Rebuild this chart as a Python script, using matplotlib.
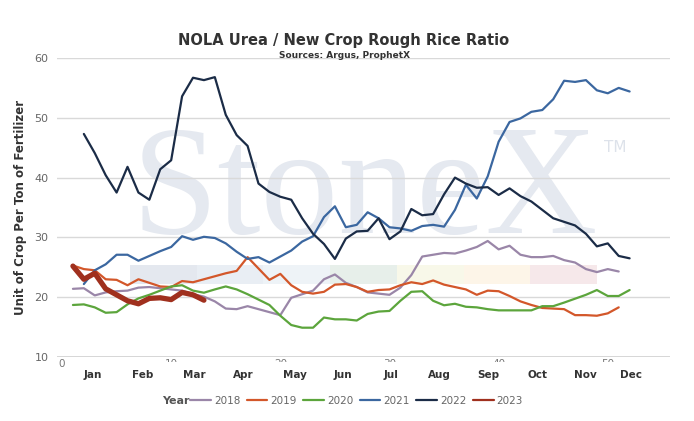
import numpy as np
import matplotlib
matplotlib.use("Agg")
import matplotlib.pyplot as plt
from matplotlib.patches import Rectangle
from matplotlib.transforms import Bbox, TransformedBbox

#* weekly ratio values
years = ["2018", "2019", "2020", "2021", "2022", "2023"]
start_week = {"2018": 1, "2019": 1, "2020": 1, "2021": 2, "2022": 2, "2023": 1}

r2018 = [21.4, 21.5, 20.3, 20.8, 21.0, 21.1, 21.6, 21.7, 21.5, 21.3,
         21.1, 20.5, 20.1, 19.3, 18.1, 18.0, 18.5, 18.0, 17.5, 17.0,
         19.9, 20.5, 21.1, 23.0, 23.8, 22.4, 21.7, 20.8, 20.6, 20.4,
         21.6, 23.7, 26.8, 27.1, 27.4, 27.3, 27.8, 28.4, 29.4, 28.0,
         28.6, 27.1, 26.7, 26.7, 26.9, 26.2, 25.8, 24.7, 24.2, 24.7, 24.3]
r2019 = [25.3, 24.7, 24.5, 23.0, 22.9, 22.0, 23.0, 22.4, 21.8, 21.7,
         22.7, 22.5, 23.0, 23.5, 24.0, 24.4, 26.7, 24.8, 22.9, 23.9,
         22.0, 20.9, 20.6, 20.9, 22.1, 22.2, 21.7, 20.9, 21.2, 21.3,
         22.0, 22.5, 22.2, 22.8, 22.1, 21.7, 21.3, 20.4, 21.1, 21.0,
         20.2, 19.3, 18.7, 18.2, 18.1, 18.0, 17.0, 17.0, 16.9, 17.3, 18.3]
r2020 = [18.7, 18.8, 18.3, 17.4, 17.5, 18.8, 19.8, 20.4, 21.1, 21.8,
         22.0, 21.1, 20.75, 21.3, 21.8, 21.3, 20.5, 19.6, 18.7, 16.9,
         15.35, 14.9, 14.9, 16.6, 16.3, 16.3, 16.1, 17.2, 17.6, 17.7,
         19.4, 20.9, 21.0, 19.4, 18.65, 18.9, 18.4, 18.3, 18.0, 17.8,
         17.8, 17.8, 17.8, 18.5, 18.5, 19.1, 19.75, 20.4, 21.2, 20.2, 20.2, 21.2]
r2021 = [22.2, 24.5, 25.5, 27.1, 27.1, 26.1, 26.9, 27.7, 28.4, 30.2,
         29.6, 30.1, 29.9, 29.0, 27.6, 26.4, 26.7, 25.8, 26.8, 27.8,
         29.3, 30.2, 33.4, 35.2, 31.7, 32.1, 34.2, 33.2, 31.7, 31.5,
         31.1, 31.9, 32.1, 31.8, 34.6, 38.8, 36.5, 40.2, 46.0, 49.3,
         49.9, 51.0, 51.3, 53.1, 56.2, 56.0, 56.3, 54.6, 54.1, 55.0, 54.4]
r2022 = [47.3, 44.1, 40.4, 37.5, 41.8, 37.5, 36.3, 41.4, 42.9, 53.6,
         56.7, 56.3, 56.8, 50.5, 47.1, 45.3, 39.0, 37.6, 36.8, 36.3,
         33.2, 30.6, 28.9, 26.4, 29.8, 31.0, 31.1, 33.2, 29.7, 31.0,
         34.75, 33.7, 33.9, 37.2, 40.0, 39.0, 38.3, 38.4, 37.1, 38.2,
         36.9, 36.0, 34.6, 33.2, 32.6, 32.0, 30.6, 28.5, 29.0, 26.9, 26.5]
r2023 = [25.2, 23.0, 24.0, 21.4, 20.4, 19.4, 18.9, 19.8, 19.9, 19.6,
         20.8, 20.4, 19.5]
series = {"2018": r2018, "2019": r2019, "2020": r2020,
          "2021": r2021, "2022": r2022, "2023": r2023}

months = ["Jan", "Feb", "Mar", "Apr", "May", "Jun",
          "Jul", "Aug", "Sep", "Oct", "Nov", "Dec"]
month_pos = [2.79, 7.42, 12.09, 16.58, 21.3, 25.69,
             30.1, 34.6, 39.05, 43.6, 47.96, 52.1]
week_ticks = [0, 10, 20, 30, 40, 50]
y_ticks = [10, 20, 30, 40, 50, 60]

colors = {"2018": "#9a86a8", "2019": "#d3572a", "2020": "#5ca53c",
          "2021": "#3b67a0", "2022": "#1b2c47", "2023": "#a0301e"}
widths = {"2018": 1.6, "2019": 1.6, "2020": 1.6, "2021": 1.6, "2022": 1.6, "2023": 3.8}
band_colors = ["#e4e8ef", "#e9eef4", "#eef3f7", "#e7efea",
               "#f8f8e9", "#fdf5e8", "#f6e8ea"]

W, H = 694, 421
fig = plt.figure(figsize=(W / 100, H / 100), dpi=100)
ax = fig.add_axes([57 / W, 1 - 357 / H, (670 - 57) / W, (357 - 58) / H])
ax.set_xlim(-0.46, 55.7)
ax.set_ylim(10, 60)

#* watermark + colour strip (decor, behind everything)
fig.text(132 / W, 1 - 233 / H, "StoneX", family="Liberation Serif", fontsize=112,
         color="#e5e9f0", ha="left", va="baseline", zorder=0)
fig.text(604 / W, 1 - 152 / H, "TM", family="DejaVu Sans", fontsize=11,
         color="#dde2ea", ha="left", va="baseline", zorder=0)
seg_w = (597 - 130) / len(band_colors)
for i, c in enumerate(band_colors):
    fig.add_artist(Rectangle(((130 + i * seg_w) / W, 1 - 284 / H), seg_w / W, 19 / H,
                             transform=fig.transFigure, facecolor=c, edgecolor="none", zorder=0.5))
ax.set_facecolor("none")
ax.set_zorder(1)

for yr in years:
    vals = series[yr]
    weeks = np.arange(start_week[yr], start_week[yr] + len(vals))
    ax.plot(weeks, vals, color=colors[yr], lw=widths[yr], label=yr,
            solid_joinstyle="round", solid_capstyle="round", zorder=3)

ax.set_yticks(y_ticks)
ax.grid(axis="y", color="#d9d9d9", lw=1.0, zorder=1)
ax.axhline(10, color="#d3d3d3", lw=2.0, zorder=1)
for s in ax.spines.values():
    s.set_visible(False)
ax.tick_params(axis="y", length=0, pad=6, labelsize=8, labelcolor="#666666")
ax.set_xticks(week_ticks)
ax.set_xticklabels([str(t) for t in week_ticks])
ax.set_xticks(month_pos, minor=True)
ax.set_xticklabels(months, minor=True)
ax.tick_params(axis="x", which="major", length=0, pad=1.5, labelsize=7.5, labelcolor="#777777")
ax.tick_params(axis="x", which="minor", length=0, pad=9.5, labelsize=7.5, labelcolor="#333333")
for lbl in ax.get_xticklabels(minor=True):
    lbl.set_fontweight("bold")

#* week numbers are mostly hidden in the original: show only their tops
for i, tk in enumerate(ax.xaxis.get_major_ticks()):
    bottom = 367.0 if i == 0 else 361.5
    tk.label1.set_clip_on(True)
    tk.label1.set_clip_box(TransformedBbox(Bbox([[0, 1 - bottom / H], [1, 1 - 357 / H]]),
                                           fig.transFigure))

ax.set_ylabel("Unit of Crop Per Ton of Fertilizer", fontsize=8.5, fontweight="bold",
              color="#333333")
ax.yaxis.set_label_coords(-0.049, 0.5)

fig.text(344 / W, 1 - 40 / H, "NOLA Urea / New Crop Rough Rice Ratio", ha="center",
         va="center", fontsize=10.5, fontweight="bold", color="#333333")
fig.text(345 / W, 1 - 56 / H, "Sources: Argus, ProphetX", ha="center", va="center",
         fontsize=6.5, fontweight="bold", color="#333333")

fig.text(162 / W, 1 - 401 / H, "Year", ha="left", va="center", fontsize=8,
         fontweight="bold", color="#555555")
leg = ax.legend(loc="center left", bbox_to_anchor=(190 / W, 1 - 401 / H),
                bbox_transform=fig.transFigure, ncol=6, frameon=False, fontsize=7.5,
                handlelength=2.0, handletextpad=0.3, columnspacing=0.6,
                borderpad=0, borderaxespad=0)
for t in leg.get_texts():
    t.set_color("#666666")
for h in leg.get_lines():
    h.set_linewidth(1.6)

fig.savefig("out.png", dpi=100)
